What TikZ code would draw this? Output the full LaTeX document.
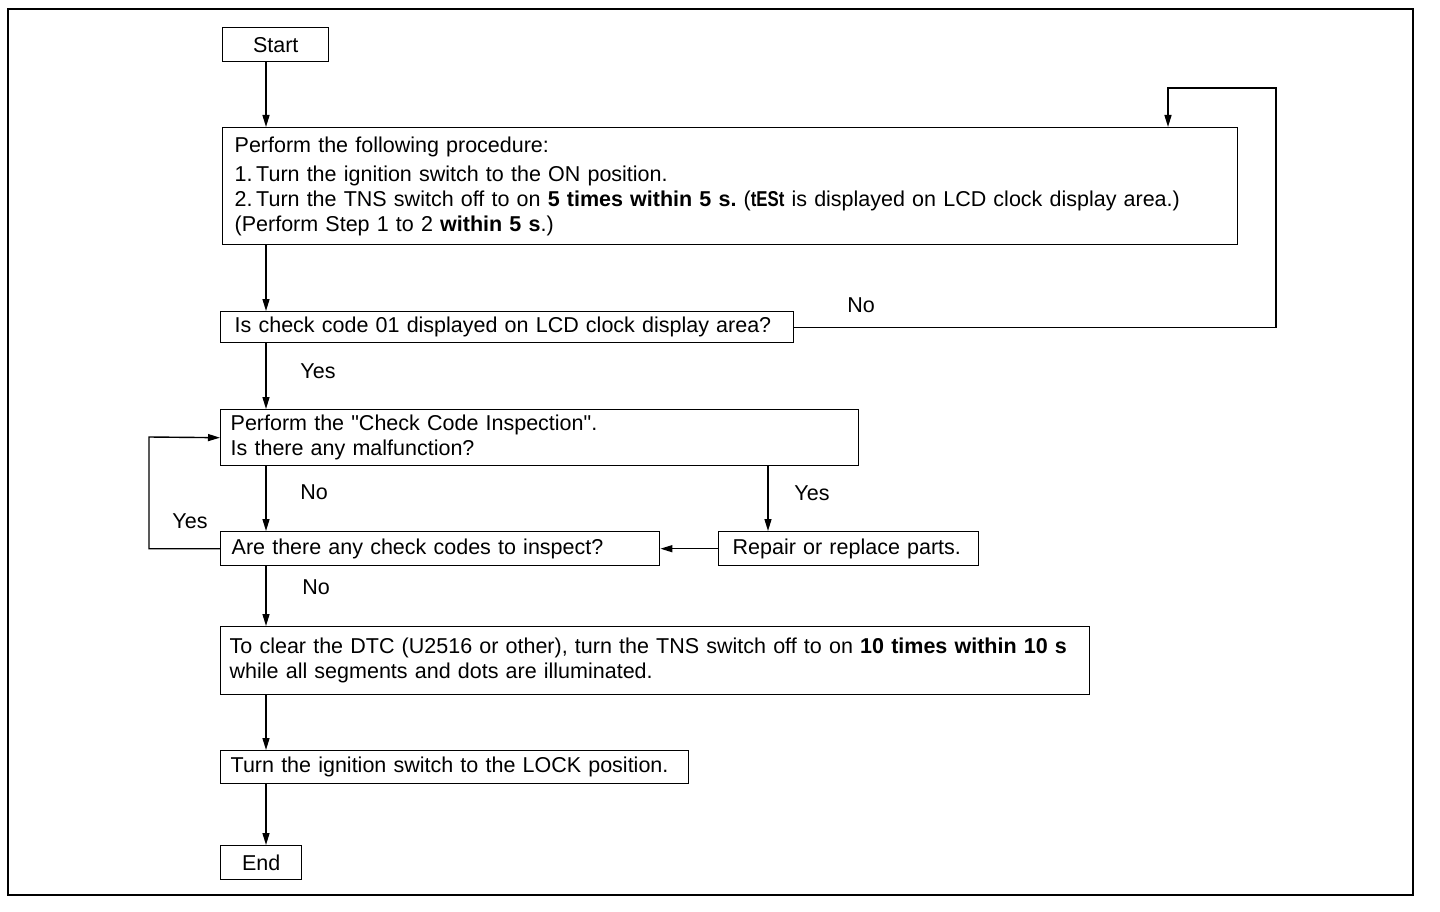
\documentclass[tikz,border=0pt]{standalone}
\usepackage{fontspec}
\setmainfont{Liberation Sans}[Ligatures=TeXOff]
\usetikzlibrary{arrows.meta}
\begin{document}
\begin{tikzpicture}[x=1pt,y=-1pt,
  box/.style={draw, line width=1.4pt, inner ysep=0pt, align=left, anchor=north west,
    font=\fontsize{21.5}{25}\selectfont},
  term/.style={draw, line width=1.4pt, inner sep=0pt, align=center, anchor=north west,
    font=\fontsize{21.5}{25}\selectfont},
  lbl/.style={font=\fontsize{21.5}{25}\selectfont, inner sep=0pt},
  arr/.style={line width=1.4pt, -{Triangle[length=12pt,width=7pt]}},
  conn/.style={line width=1.4pt}]
\useasboundingbox (0,0) rectangle (1440,912);
\draw[line width=2.4pt] (8,9) rectangle (1413,895);

\coordinate (col) at (266,0);
\coordinate (colB) at (768,0);
\coordinate (nr) at (1276,88);
\coordinate (tgt) at (1168,0);
\coordinate (lx) at (149,437);

\node[term, minimum width=106pt, minimum height=34pt] (start) at (222,27) {Start};
\node[box, inner xsep=12pt, text width=991pt, minimum height=117pt] (b1) at (222,127)
 {Perform the following procedure:\\[4pt]
  1.\,Turn the ignition switch to the ON position.\\
  2.\,Turn the TNS switch off to on \textbf{5 times within 5 s.}\ (\scalebox{0.78}[1]{\textbf{tESt}} is displayed on LCD clock display area.)\\
  (Perform Step 1 to 2 \textbf{within 5 s}.)};
\node[box, inner xsep=14pt, text width=545pt, minimum height=31pt] (b2) at (220,311)
 {Is check code 01 displayed on LCD clock display area?};
\node[box, inner xsep=10pt, text width=618pt, minimum height=56pt] (b3) at (220,409)
 {Perform the "Check Code Inspection".\\Is there any malfunction?};
\node[box, inner xsep=11pt, text width=417pt, minimum height=34pt] (b4) at (220,531)
 {Are there any check codes to inspect?};
\node[box, inner xsep=14pt, text width=232pt, minimum height=34pt] (b5) at (718,531)
 {Repair or replace parts.};
\node[box, inner xsep=9pt, text width=851pt, minimum height=68pt] (b6) at (220,626)
 {To clear the DTC (U2516 or other), turn the TNS switch off to on \textbf{10 times within 10 s}\\
  while all segments and dots are illuminated.};
\node[box, inner xsep=10pt, text width=448pt, minimum height=33pt] (b7) at (220,750)
 {Turn the ignition switch to the LOCK position.};
\node[term, minimum width=81pt, minimum height=34pt] (end) at (220,845) {End};

\draw[arr] (start.south -| col) -- (b1.north -| col);
\draw[arr] (b1.south -| col) -- (b2.north -| col);
\draw[arr] (b2.east) -- (b2.east -| nr) -- (nr) -- (nr -| tgt) -- (b1.north -| tgt);
\draw[arr] (b2.south -| col) -- (b3.north -| col);
\draw[arr] (b3.south -| col) -- (b4.north -| col);
\draw[arr] (b3.south -| colB) -- (b5.north -| colB);
\draw[arr] (b5.west) -- (b4.east);
\draw[arr] (b4.west) -| (lx) -- (b3.west);
\draw[arr] (b4.south -| col) -- (b6.north -| col);
\draw[arr] (b6.south -| col) -- (b7.north -| col);
\draw[arr] (b7.south -| col) -- (end.north -| col);

\node[lbl] (l1) at (861,305) {No};
\node[lbl] (l2) at (318,371) {Yes};
\node[lbl] (l3) at (314,492) {No};
\node[lbl] (l4) at (812,493) {Yes};
\node[lbl] (l5) at (190,521) {Yes};
\node[lbl] (l6) at (316,587) {No};
\end{tikzpicture}
\end{document}
